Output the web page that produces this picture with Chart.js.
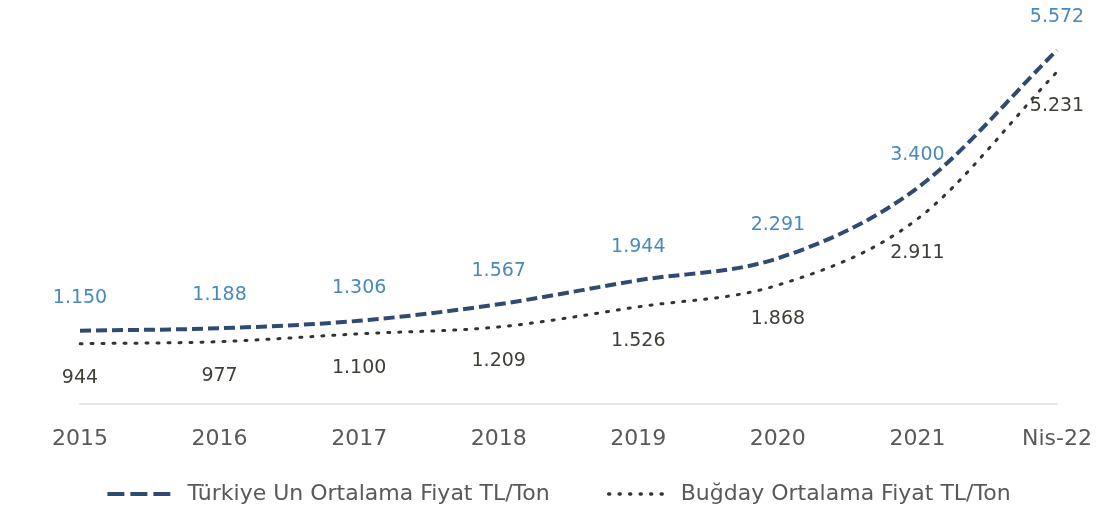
<!DOCTYPE html>
<html>
<head>
<meta charset="utf-8">
<script src="https://cdn.jsdelivr.net/npm/chart.js@4/dist/chart.umd.min.js"></script>
<style>
  html, body { margin: 0; padding: 0; background: #fff; }
  #wrap { width: 1118px; height: 510px; }
</style>
</head>
<body>
<div id="wrap"><canvas id="myChart"></canvas></div>
<script>
// Yıllar ve fiyatlar (TL/Ton)
var labels = ['2015', '2016', '2017', '2018', '2019', '2020', '2021', 'Nis-22'];
var unFiyat = [1150, 1188, 1306, 1567, 1944, 2291, 3400, 5572];
var bugdayFiyat = [944, 977, 1100, 1209, 1526, 1868, 2911, 5231];

var fontAile = "'DejaVu Sans', sans-serif";

// Değer etiketleri: un üstte, buğday altta
var degerEtiketleri = {
  id: 'degerEtiketleri',
  afterDatasetsDraw: function(chart) {
    var ctx = chart.ctx;
    ctx.save();
    ctx.font = '19px ' + fontAile;
    ctx.textAlign = 'center';
    ctx.textBaseline = 'middle';
    chart.data.datasets.forEach(function(ds, d) {
      var meta = chart.getDatasetMeta(d);
      meta.data.forEach(function(pt, i) {
        var txt = ds.data[i].toLocaleString('tr-TR');
        ctx.fillStyle = ds.etiketRengi;
        ctx.fillText(txt, pt.x, pt.y + ds.etiketKaydir);
      });
    });
    ctx.restore();
  }
};

// Alttaki lejant: kesikli/noktalı çizgi + seri adı
var altLejant = {
  id: 'altLejant',
  afterDraw: function(chart) {
    var ctx = chart.ctx;
    var y = 494;
    var sembolGen = [65, 57];
    var araBosluk = 15;
    var ogeArasi = 59;
    ctx.save();
    ctx.font = '22px ' + fontAile;
    ctx.textBaseline = 'middle';
    var ds = chart.data.datasets;
    var toplam = 0;
    ds.forEach(function(d, i) {
      toplam += sembolGen[i] + araBosluk + ctx.measureText(d.label).width;
    });
    toplam += ogeArasi;
    var x = chart.width / 2 - toplam / 2;
    ds.forEach(function(d, i) {
      ctx.strokeStyle = d.borderColor;
      ctx.lineWidth = d.lejantKalinlik;
      ctx.lineCap = d.borderCapStyle || 'butt';
      ctx.setLineDash(d.lejantDesen);
      ctx.beginPath();
      ctx.moveTo(x, y);
      ctx.lineTo(x + sembolGen[i], y);
      ctx.stroke();
      x += sembolGen[i] + araBosluk;
      ctx.fillStyle = '#595959';
      ctx.fillText(d.label, x, y);
      x += ctx.measureText(d.label).width + ogeArasi;
    });
    ctx.restore();
  }
};

var ctx = document.getElementById('myChart').getContext('2d');
var chart = new Chart(ctx, {
  type: 'line',
  data: {
    labels: labels,
    datasets: [{
      label: 'Türkiye Un Ortalama Fiyat TL/Ton',
      data: unFiyat,
      borderColor: '#2f4b72',
      borderWidth: 4,
      borderDash: [11, 5],
      cubicInterpolationMode: 'monotone',
      pointRadius: 0,
      fill: false,
      etiketRengi: '#4a89bd',
      etiketKaydir: -33,
      lejantDesen: [17, 6],
      lejantKalinlik: 4
    }, {
      label: 'Buğday Ortalama Fiyat TL/Ton',
      data: bugdayFiyat,
      borderColor: '#333333',
      borderWidth: 3,
      borderDash: [2, 9],
      borderCapStyle: 'round',
      cubicInterpolationMode: 'monotone',
      pointRadius: 0,
      fill: false,
      etiketRengi: '#3f3f38',
      etiketKaydir: 34,
      lejantDesen: [1, 9.5],
      lejantKalinlik: 3.5
    }]
  },
  options: {
    responsive: true,
    maintainAspectRatio: false,
    animation: false,
    layout: {
      padding: { left: 80, right: 61, top: 23, bottom: 44 }
    },
    plugins: {
      tooltip: { enabled: false },
      legend: { display: false }
    },
    scales: {
      x: {
        offset: false,
        grid: { display: false },
        border: { display: true, color: '#e8e8e8', width: 2 },
        ticks: {
          color: '#595959',
          font: { family: fontAile, size: 22 },
          padding: 14,
          maxRotation: 0
        }
      },
      y: {
        display: false,
        min: 0,
        max: 6000
      }
    }
  },
  plugins: [degerEtiketleri, altLejant]
});
</script>
</body>
</html>
